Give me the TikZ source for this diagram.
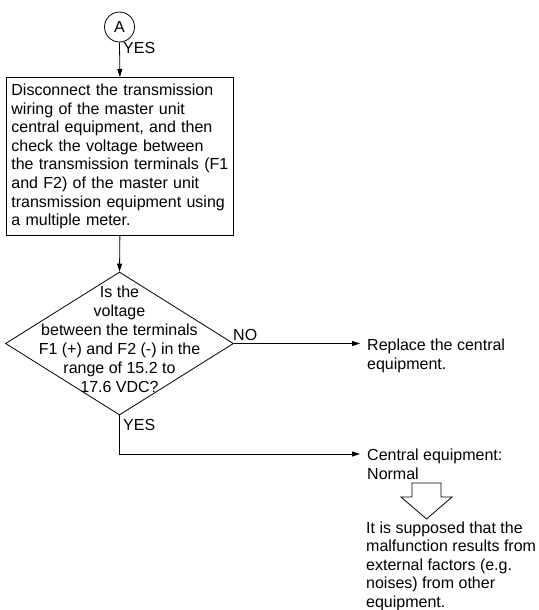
\documentclass[tikz,border=0pt]{standalone}
\usepackage{fontspec}
\setmainfont{Liberation Sans}
\usetikzlibrary{shapes.geometric,arrows.meta}
\begin{document}
\begin{tikzpicture}[x=1pt,y=-1pt,
  every node/.style={font=\fontsize{16}{19}\selectfont, inner sep=0pt},
  line/.style={line width=0.8pt},
  arr/.style={line, -{Triangle[length=8pt,width=5pt]}},
  lbl/.style={anchor=base west},
  side/.style={anchor=north west, align=left, inner xsep=7pt, inner ysep=0pt},
]
\useasboundingbox (0,0) rectangle (538,610);
\node[draw, line, circle, minimum size=30pt] (A) at (119.5,27) {A};
\node[draw, line, anchor=north west, text width=217pt, minimum height=158pt, inner xsep=5pt, inner ysep=0pt, align=left, font=\fontsize{16}{18.6}\selectfont] (b) at (6,77)
  {Disconnect the transmission\\wiring of the master unit\\central equipment, and then\\check the voltage between\\the transmission terminals (F1\\and F2) of the master unit\\transmission equipment using\\a multiple meter.};
\node[draw, line, diamond, minimum width=228pt, minimum height=143pt] (d) at (119.5,343.5) {};
\node[align=center] (dt) at (119.5,339.4)
  {Is the\\voltage\\between the terminals\\F1 (+) and F2 (-) in the\\range of 15.2 to\\17.6 VDC?};
\draw[arr] (A.south) -- (b.north);
\draw[arr] (b.south) -- (d.north);
\node[lbl] (y1) at (123,53.75) {YES};
\node[lbl] (no) at (233,340) {NO};
\node[side] (r) at (360,338.3) {Replace the central\\equipment.};
\draw[arr] (d.east) -- (d.east -| r.west);
\node[lbl] (y2) at (123,430.75) {YES};
\node[side] (c) at (360,448.3) {Central equipment:\\Normal};
\draw[arr] (d.south) |- ([yshift=-5.7pt]c.north west);
\draw[line] (412,483) -- (441,483) -- (441,497) -- (452,497) -- (426.5,519) -- (401,497) -- (412,497) -- cycle;
\node[side, inner xsep=6pt, font=\fontsize{16}{18.5}\selectfont] (f) at (360,521.3)
  {It is supposed that the\\malfunction results from\\external factors (e.g.\\noises) from other\\equipment.};
\end{tikzpicture}
\end{document}
